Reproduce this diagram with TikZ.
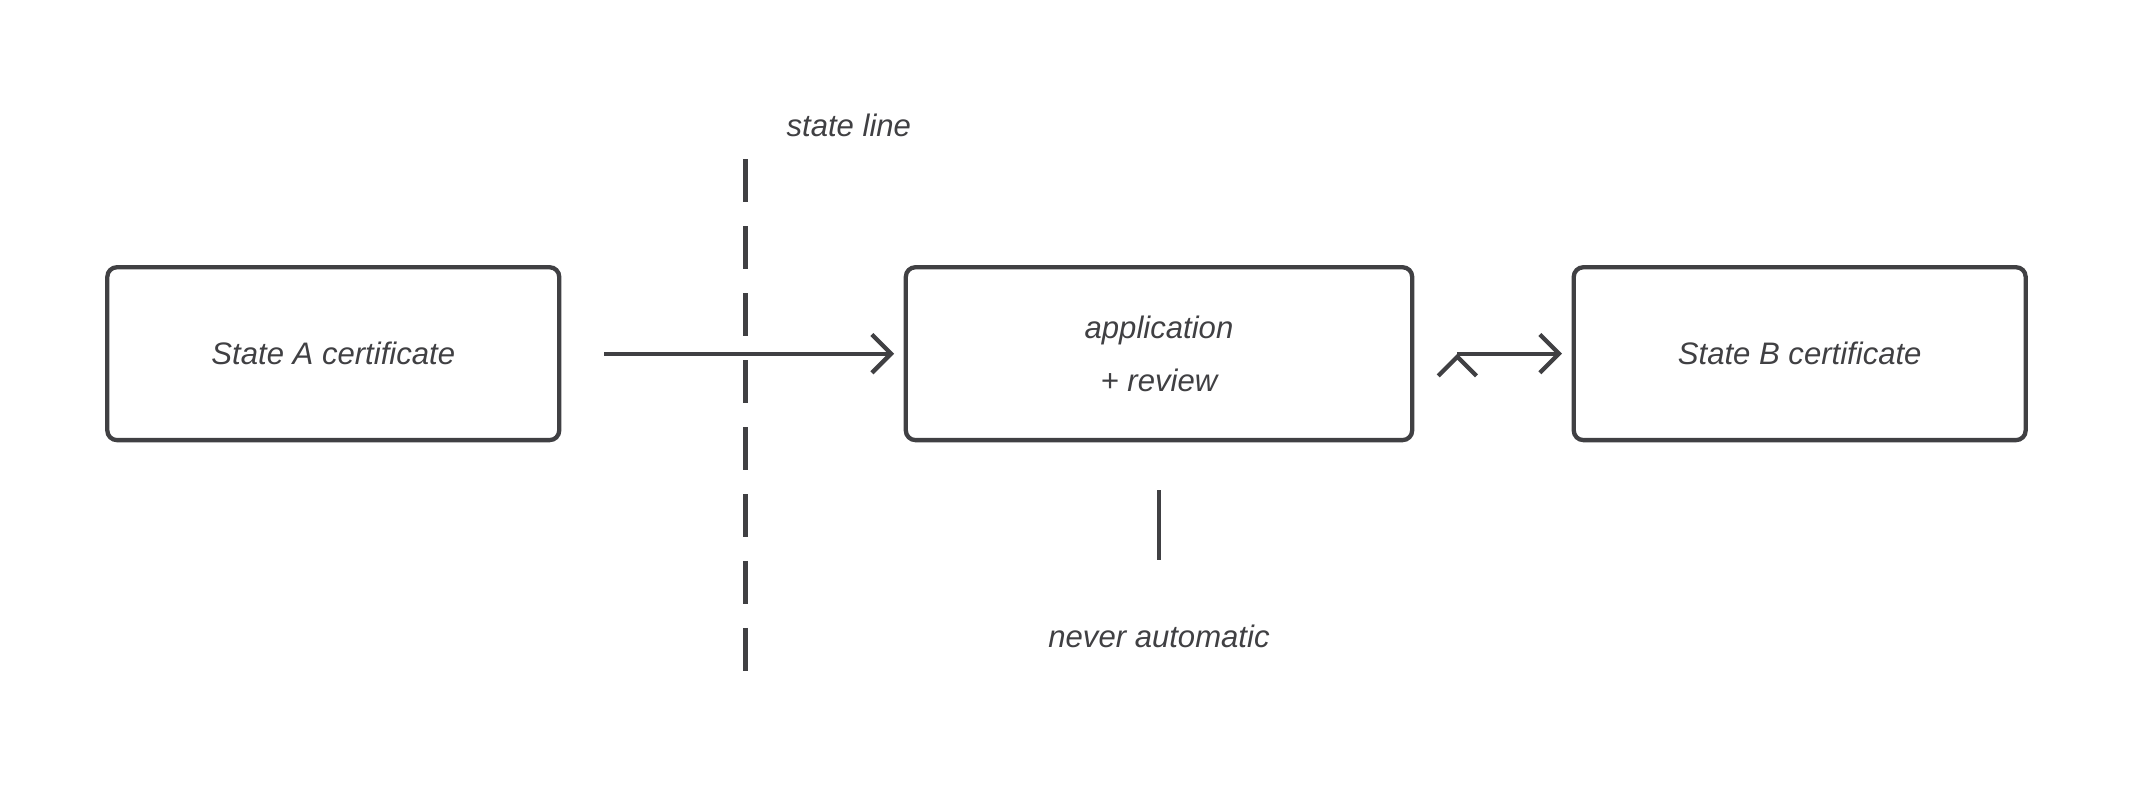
\documentclass[tikz,border=0pt]{standalone}
\usepackage{fontspec}
\setmainfont{Liberation Sans}
\usetikzlibrary{positioning,arrows.meta}
\definecolor{ink}{HTML}{404043}
\begin{document}
\begin{tikzpicture}[x=0.01cm,y=-0.01cm,
	box/.style={draw=ink,line width=0.9pt,rounded corners=2pt,minimum width=3.32cm,minimum height=1.27cm,align=center,font=\itshape\fontsize{6.5}{11}\selectfont,text=ink},
	lbl/.style={font=\itshape\fontsize{6.5}{8}\selectfont,text=ink},
	flow/.style={draw=ink,line width=0.9pt,-{Straight Barb[length=4pt,width=8pt,line width=0.9pt]}}]
	\useasboundingbox (0,0) rectangle (1568,588);
	\node[box](stateA) at (245,260){State A certificate};
	\node[box,minimum width=3.72cm](review) at (852,260){application\\+ review};
	\node[box](stateB) at (1323,260){State B certificate};
	\node[lbl](linelbl) at (624,92){state line};
	\node[lbl](never) at (852,468){never automatic};
	\coordinate (top) at (548,117);
	\coordinate (bot) at (548,510);
	\draw[ink,line width=0.9pt,dash pattern=on 9pt off 5pt] (top) -- (bot);
	\path[flow]
	([xshift=9pt]stateA.east) edge ([xshift=-2pt]review.west)
	([xshift=9pt]review.east) edge ([xshift=-2pt]stateB.west);
	\draw[ink,line width=0.9pt] ([yshift=-10pt]review.south) -- ([yshift=10pt]never.north);
\end{tikzpicture}
\end{document}
